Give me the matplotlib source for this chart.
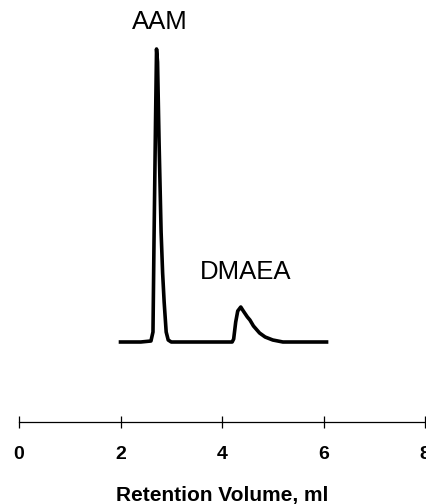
import matplotlib
matplotlib.use("Agg")
import matplotlib.pyplot as plt

plt.rcParams['font.family'] = ['Liberation Sans', 'DejaVu Sans']

# chromatogram trace: retention volume (ml) vs detector signal (arb. units)
volume = [2.00, 2.40, 2.60, 2.64, 2.66, 2.69, 2.71, 2.73, 2.76, 2.80, 2.83, 2.86,
          2.90, 2.94, 3.00, 4.20, 4.23, 4.27, 4.31, 4.37, 4.42, 4.50, 4.55, 4.62,
          4.74, 4.85, 5.00, 5.20, 6.06]
signal = [0, 0, 1, 10, 100, 220, 293, 280, 200, 110, 69, 40,
          10, 2, 0, 0, 3, 20, 31, 35, 31, 25, 22, 16,
          9, 5, 2, 0, 0]

peak_names = ['AAM', 'DMAEA']
peak_label_pos = [(2.78, 320), (4.47, 70)]

x_ticks = [0, 2, 4, 6, 8]

fig = plt.figure(figsize=(4.26, 5.04), dpi=100)
ax = fig.add_axes([19 / 426, 82 / 504, 406 / 426, 422 / 504])

ax.plot(volume, signal, color='black', lw=2.6, solid_joinstyle='round')

for name, (px, py) in zip(peak_names, peak_label_pos):
    ax.text(px, py, name, ha='center', va='center', fontsize=18.5)

ax.set_xlim(0, 8)
ax.set_ylim(-80, 342)
ax.set_xticks(x_ticks)
ax.set_xticklabels([str(t) for t in x_ticks], fontsize=14, fontweight='bold')
ax.tick_params(axis='x', direction='inout', length=9, width=0.9, pad=13)
ax.set_yticks([])
for side in ['left', 'right', 'top']:
    ax.spines[side].set_visible(False)
ax.spines['bottom'].set_linewidth(0.9)
ax.set_xlabel('Retention Volume, ml', fontsize=15, fontweight='bold', labelpad=16)
ax.patch.set_visible(False)

fig.savefig('out.png', dpi=100)
